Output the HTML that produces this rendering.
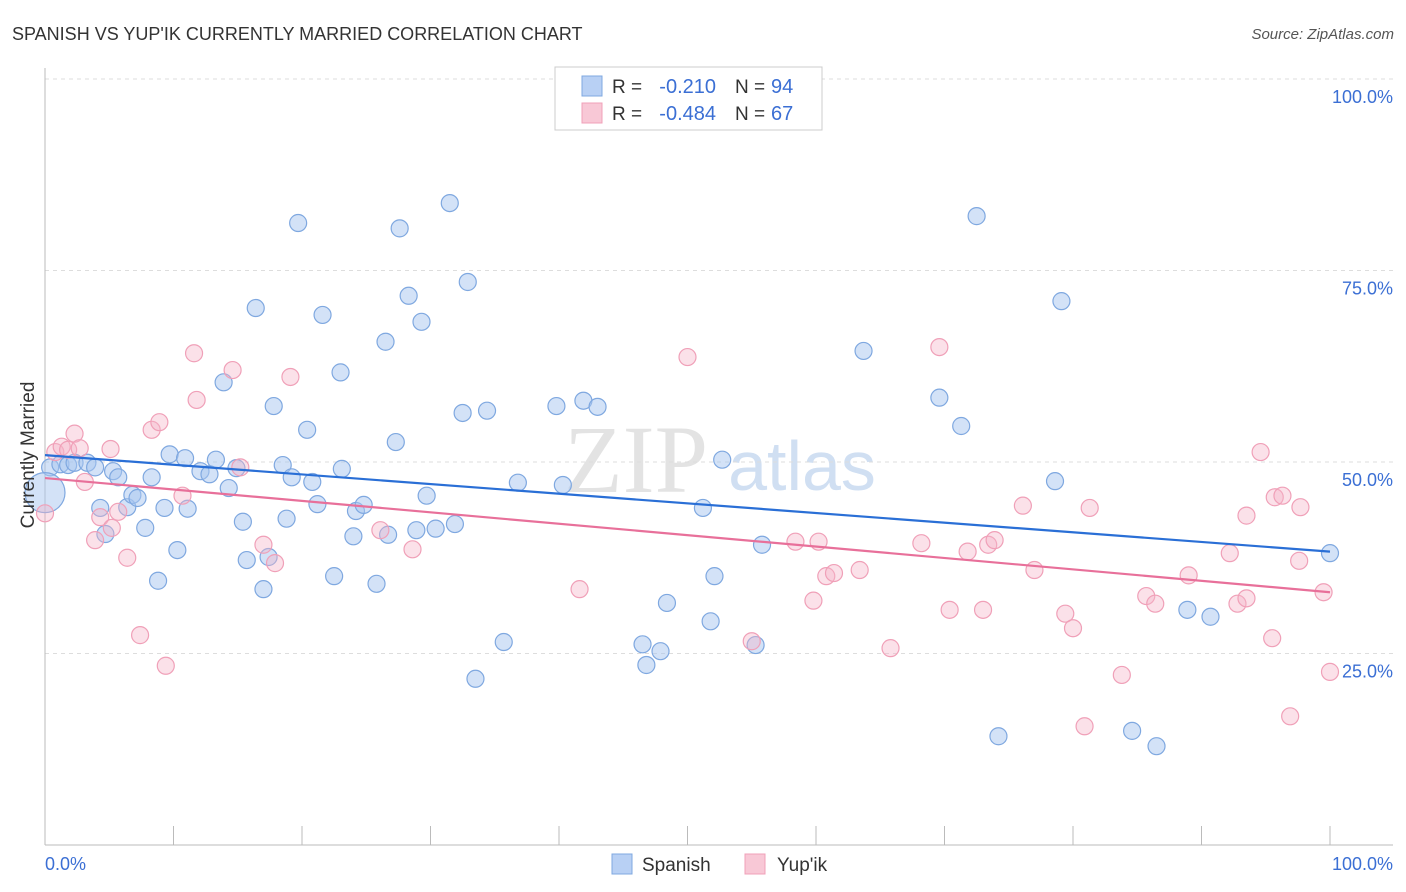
<!DOCTYPE html>
<html><head><meta charset="utf-8"><style>
body{margin:0;background:#fff;font-family:"Liberation Sans",sans-serif;}
svg{display:block}
</style></head><body>
<svg id="chart" width="1406" height="892" xmlns="http://www.w3.org/2000/svg">
<text x="12" y="40" font-size="18" fill="#333">SPANISH VS YUP'IK CURRENTLY MARRIED CORRELATION CHART</text>
<text x="1394" y="39" font-size="15" fill="#555" font-style="italic" text-anchor="end">Source: ZipAtlas.com</text>
<g>
<text x="636" y="492" font-size="96" font-family="Liberation Serif,serif" fill="#ddd" text-anchor="middle" opacity="0.8">ZIP</text>
<text x="802" y="490" font-size="70" fill="#c5d8f0" text-anchor="middle" opacity="0.8">atlas</text>
</g>
<g id="grid"></g>
<g id="axes"></g>
<g id="marks"></g>
<g id="trends"></g>
<text transform="translate(34,455) rotate(-90)" font-size="19" fill="#333" text-anchor="middle">Currently Married</text>
<text x="45" y="870" font-size="18" fill="#3b6fd4">0.0%</text>
<text x="1393" y="870" font-size="18" fill="#3b6fd4" text-anchor="end">100.0%</text>
<g>
<rect x="555" y="67" width="267" height="63" fill="#fff" stroke="#ccc"/>
<rect x="582" y="76" width="20" height="20" fill="#b8d0f4" stroke="#7fa8e0"/>
<rect x="582" y="103" width="20" height="20" fill="#f8c8d6" stroke="#f0a0b8"/>
<text x="612" y="93" font-size="19" fill="#333">R =</text>
<text x="716" y="93" font-size="20" fill="#3b6fd4" text-anchor="end">-0.210</text>
<text x="735" y="93" font-size="19" fill="#333">N =</text>
<text x="771" y="93" font-size="20" fill="#3b6fd4">94</text>
<text x="612" y="120" font-size="19" fill="#333">R =</text>
<text x="716" y="120" font-size="20" fill="#3b6fd4" text-anchor="end">-0.484</text>
<text x="735" y="120" font-size="19" fill="#333">N =</text>
<text x="771" y="120" font-size="20" fill="#3b6fd4">67</text>
</g>
<g>
<rect x="612" y="854" width="20" height="20" fill="#b8d0f4" stroke="#7fa8e0"/>
<text x="642" y="871" font-size="19" fill="#333">Spanish</text>
<rect x="745" y="854" width="20" height="20" fill="#f8c8d6" stroke="#f0a0b8"/>
<text x="777" y="871" font-size="19" fill="#333">Yup'ik</text>
</g>
</svg>
<script>
const yTicks=[25,50,75,100];
const yTickLabels=["25.0%","50.0%","75.0%","100.0%"];
const xTicks=[0,10,20,30,40,50,60,70,80,90,100];
const spanishX=[0.4,0,1.2,1.8,2.3,3.3,3.9,4.3,4.7,5.3,5.7,6.4,6.8,7.2,7.8,8.3,8.8,9.3,9.7,10.3,10.9,11.1,12.1,12.8,13.3,13.9,14.3,14.9,15.4,15.7,16.4,17.0,17.4,17.8,18.5,18.8,19.2,19.7,20.4,20.8,21.2,21.6,22.5,23.0,23.1,24.0,24.2,24.8,25.8,26.5,26.7,27.3,27.6,28.3,28.9,29.3,29.7,30.4,31.5,31.9,32.5,32.9,33.5,34.4,35.7,36.8,39.8,40.3,41.9,43.0,46.5,46.8,47.9,48.4,51.2,51.8,52.1,52.7,55.3,55.8,63.7,69.6,71.3,72.5,74.2,78.6,79.1,84.6,86.5,88.9,90.7,100];
const spanishY=[49.3,46.0,49.7,49.6,49.9,49.9,49.3,44.0,40.6,48.8,48.0,44.1,45.7,45.3,41.4,48.0,34.5,44.0,51.0,38.5,50.5,43.9,48.8,48.4,50.3,60.4,46.6,49.2,42.2,37.2,70.1,33.4,37.6,57.3,49.6,42.6,48.0,81.2,54.2,47.4,44.5,69.2,35.1,61.7,49.1,40.3,43.6,44.4,34.1,65.7,40.5,52.6,80.5,71.7,41.1,68.3,45.6,41.3,83.8,41.9,56.4,73.5,21.7,56.7,26.5,47.3,57.3,47.0,58.0,57.2,26.2,23.5,25.3,31.6,44.0,29.2,35.1,50.3,26.1,39.2,64.5,58.4,54.7,82.1,14.2,47.5,71.0,14.9,12.9,30.7,29.8,38.1];
const yupikX=[0,0.8,1.3,1.8,2.3,2.7,3.1,3.9,4.3,5.1,5.2,5.7,6.4,7.4,8.3,8.9,9.4,10.7,11.6,11.8,14.6,15.2,17.0,17.9,19.1,26.1,28.6,41.6,50.0,55.0,58.4,59.8,60.2,60.8,61.4,63.4,65.8,68.2,69.6,70.4,71.8,73.0,73.4,73.9,76.1,77.0,79.4,80.0,81.3,83.8,80.9,85.7,86.4,89.0,92.2,92.8,93.5,93.5,94.6,95.5,95.7,96.3,96.9,97.6,97.7,99.5,100];
const yupikY=[43.3,51.3,52.0,51.6,53.7,51.8,47.4,39.8,42.8,51.7,41.4,43.5,37.5,27.4,54.2,55.2,23.4,45.6,64.2,58.1,62.0,49.3,39.2,36.8,61.1,41.1,38.6,33.4,63.7,26.6,39.6,31.9,39.6,35.1,35.5,35.9,25.7,39.4,65.0,30.7,38.3,30.7,39.2,39.8,44.3,35.9,30.2,28.3,44.0,22.2,15.5,32.5,31.5,35.2,38.1,31.5,43.0,32.2,51.3,27.0,45.4,45.6,16.8,37.1,44.1,33.0,22.6];
const spanishTrend=[50.9,38.3];
const yupikTrend=[47.9,33.0];
const NS="http://www.w3.org/2000/svg";
const X0=45,X1=1330,Y0=845,Y100=79;
const sx=v=>X0+(X1-X0)*v/100;
const sy=v=>Y0-(Y0-Y100)*v/100;
function mk(tag,attrs,parent){const e=document.createElementNS(NS,tag);for(const k in attrs)e.setAttribute(k,attrs[k]);parent.appendChild(e);return e;}
const grid=document.getElementById('grid'),axes=document.getElementById('axes'),marks=document.getElementById('marks'),trends=document.getElementById('trends');
yTicks.forEach((t,i)=>{
 const l=mk('line',{x1:45,x2:1393,y1:sy(t),y2:sy(t),stroke:'#ddd','stroke-dasharray':'4,4'},grid);
 
 
 const tx=mk('text',{x:1393,y:sy(t)+24,'font-size':18,fill:'#3b6fd4','text-anchor':'end'},grid);
 tx.textContent=yTickLabels[i];
 
 
});
const ya=mk('line',{x1:45,x2:45,y1:68,y2:845,stroke:'#bbb'},axes);


const xa=mk('line',{x1:45,x2:1393,y1:845,y2:845,stroke:'#bbb'},axes);


xTicks.forEach(t=>{
 const l=mk('line',{x1:sx(t),x2:sx(t),y1:826,y2:845,stroke:'#bbb'},axes);
 
 
});
function pts(xs,ys,fill,stroke,name){
 xs.forEach((x,i)=>{
  const r=(name==='spanish-point'&&i===1)?20:8.5;
  const c=mk('circle',{cx:sx(x),cy:sy(ys[i]),r:r,fill:fill,stroke:stroke,'stroke-width':1.2},marks);
  
  
 });
}
pts(spanishX,spanishY,'rgba(168,198,240,0.5)','#7fa8e0','spanish-point');
pts(yupikX,yupikY,'rgba(245,180,200,0.4)','#f0a0b8','yupik-point');
const t1=mk('line',{x1:sx(0),y1:sy(spanishTrend[0]),x2:sx(100),y2:sy(spanishTrend[1]),stroke:'#2a6fd6','stroke-width':2.2},trends);


const t2=mk('line',{x1:sx(0),y1:sy(yupikTrend[0]),x2:sx(100),y2:sy(yupikTrend[1]),stroke:'#e8709a','stroke-width':2.2},trends);


</script>
</body></html>
